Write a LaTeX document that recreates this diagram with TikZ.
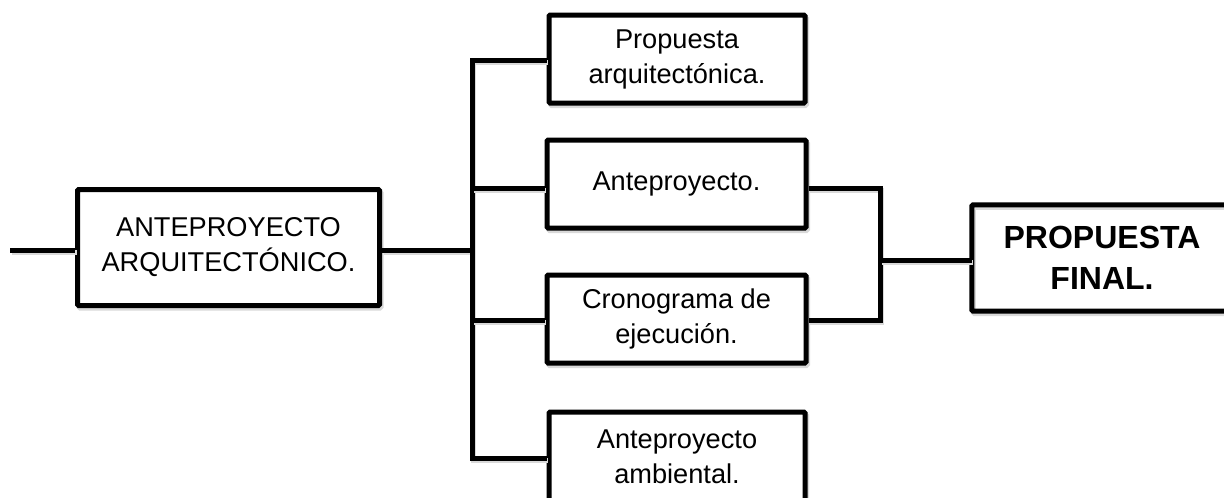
\documentclass[tikz,border=0pt]{standalone}
\usepackage{fontspec}
\setmainfont{Liberation Sans}
\begin{document}
\begin{tikzpicture}[x=1pt,y=-1pt,
  softshadow/.style={preaction={draw=black!15, line width=5pt,
      transform canvas={xshift=1.5pt,yshift=-2.5pt}}},
  box/.style={draw=black, line width=5pt, fill=white, rounded corners=1.2pt,
      align=center, inner sep=0pt, font=\fontsize{27.2}{35}\selectfont,
      softshadow},
  openbox/.style={fill=white, align=center, inner sep=0pt,
      font=\fontsize{32}{41}\selectfont\bfseries},
  conn/.style={draw=black, line width=5pt, line join=miter, softshadow}]
  \useasboundingbox (0,0) rectangle (1224,498);
  \begin{scope}
  \clip (0,0) rectangle (1224,498);

  % junction points of the connectors
  \coordinate (start) at (10,250);
  \coordinate (jMain) at (472,250);
  \coordinate (jTop)  at (472,60);
  \coordinate (jAnte) at (472,188);
  \coordinate (jCron) at (472,320);
  \coordinate (jBot)  at (472,458);
  \coordinate (rTop)  at (880,188);
  \coordinate (rBot)  at (880,320);
  \coordinate (rMid)  at (880,260);

  % boxes
  \node[box, minimum width=302pt, minimum height=116pt] (main) at (228.5,247.5)
    {ANTEPROYECTO\\ARQUITECTÓNICO.};
  \node[box, minimum width=256pt, minimum height=88pt] (prop) at (677,59)
    {Propuesta\\arquitectónica.};
  \node[box, minimum width=259pt, minimum height=88pt] (ante) at (676.5,184)
    {Anteproyecto.};
  \node[box, minimum width=259pt, minimum height=88pt] (cron) at (676.5,319)
    {Cronograma de\\ejecución.};
  \node[box, minimum width=256pt, minimum height=90pt] (amb) at (677,457)
    {Anteproyecto\\ambiental.};

  % the last box runs past the right edge, so only three sides are drawn
  \node[openbox, minimum width=288pt, minimum height=106pt] (final) at (1116,258)
    {\hspace*{-28pt}PROPUESTA\\\hspace*{-28pt}FINAL.};
  \draw[conn, rounded corners=1.2pt] (final.north east) -- (final.north west)
    -- (final.south west) -- (final.south east);

  % connectors
  \draw[conn] (start) -- (start -| main.west);
  \draw[conn] (main.east |- jMain) -- (jMain);
  \draw[conn] (jTop -| prop.west) -- (jTop) -- (jBot) -- (jBot -| amb.west);
  \draw[conn] (jAnte) -- (jAnte -| ante.west);
  \draw[conn] (jCron) -- (jCron -| cron.west);
  \draw[conn] (rTop -| ante.east) -- (rTop) -- (rBot) -- (rBot -| cron.east);
  \draw[conn] (rMid) -- (rMid -| final.west);
  \end{scope}
\end{tikzpicture}
\end{document}
